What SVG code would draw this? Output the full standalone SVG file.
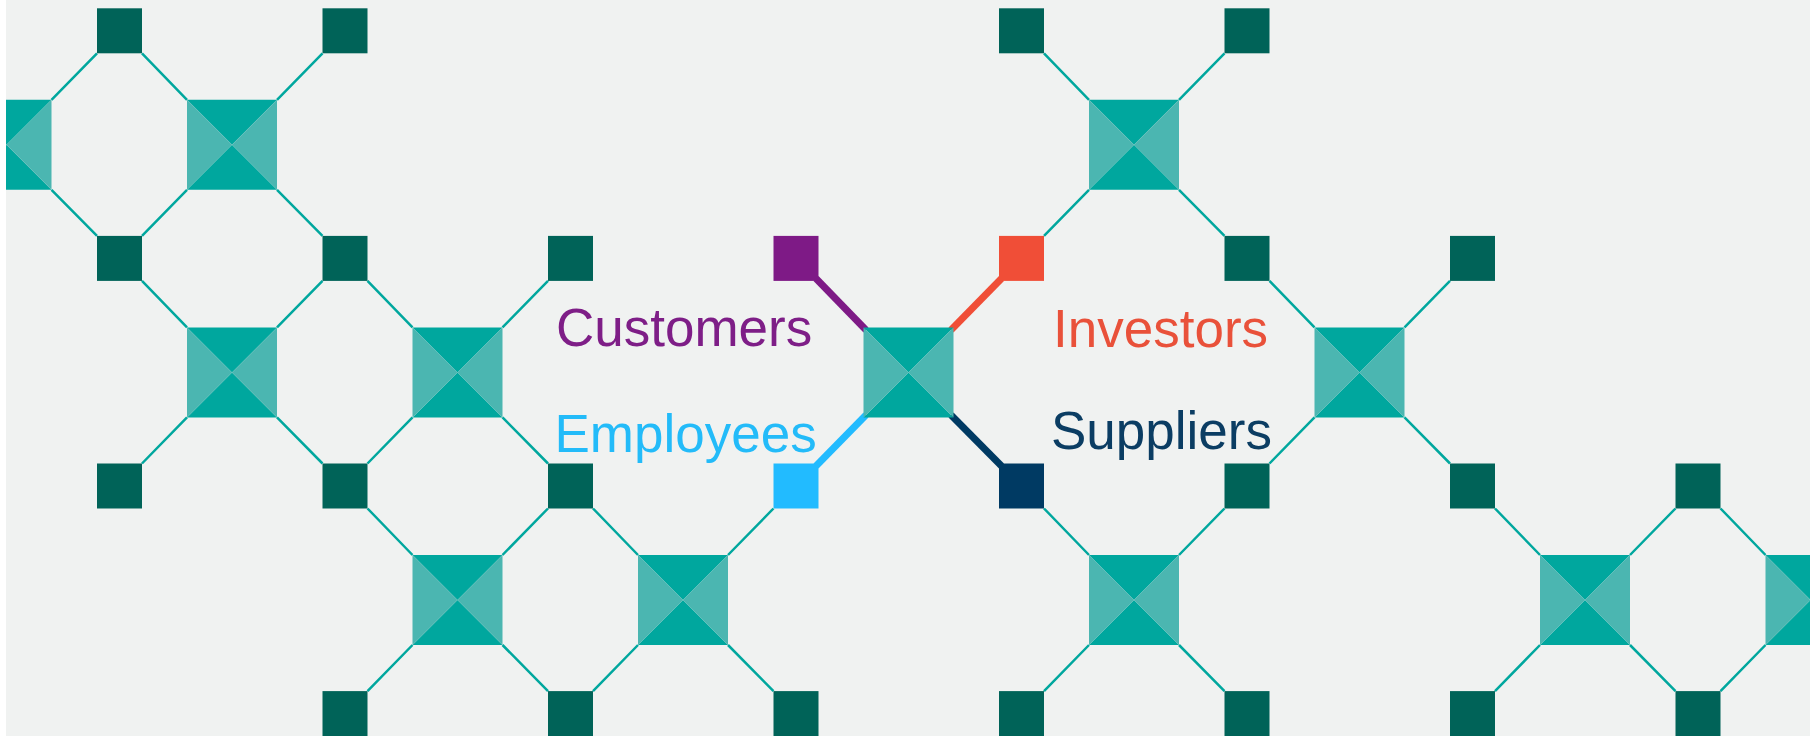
<svg xmlns="http://www.w3.org/2000/svg" xmlns:xlink="http://www.w3.org/1999/xlink" width="1819" height="736" viewBox="0 0 1819 736">
<style>
.dk{fill:#00a79e}
.lt{fill:#4bb6b1}
.sq{fill:#006358}
.ln{stroke:#00a79e;stroke-width:2.5;fill:none}
.arm{stroke-width:7;fill:none}
.lbl{font-family:"Liberation Sans",Arial,sans-serif;font-size:53px}
</style>
<defs>
<clipPath id="clip"><rect x="6" y="0" width="1804" height="736"/></clipPath>
<g id="big">
<polygon class="dk" points="-45,-45 45,-45 0,0"/>
<polygon class="dk" points="-45,45 45,45 0,0"/>
<polygon class="lt" points="-45,-45 -45,45 0,0"/>
<polygon class="lt" points="45,-45 45,45 0,0"/>
</g>
<rect id="sm" x="-22.5" y="-22.5" width="45" height="45"/>
</defs>
<rect x="0" y="0" width="1819" height="736" fill="#ffffff"/>
<g clip-path="url(#clip)">
<rect x="6" y="0" width="1804" height="736" fill="#f0f2f1"/>
<g id="connectors">
<g class="ln">
<path d="M51.5,99.8L97,53.3M51.5,189.8L97,235.9"/>
<path d="M187,99.8L142,53.3M277,99.8L322.5,53.3M187,189.8L142,235.9M277,189.8L322.5,235.9"/>
<path d="M1089,99.8L1044,53.3M1179,99.8L1224.5,53.3M1089,189.8L1044,235.9M1179,189.8L1224.5,235.9"/>
<path d="M187,327.4L142,280.9M277,327.4L322.5,280.9M187,417.4L142,463.5M277,417.4L322.5,463.5"/>
<path d="M412.5,327.4L367.5,280.9M502.5,327.4L548,280.9M412.5,417.4L367.5,463.5M502.5,417.4L548,463.5"/>
<path d="M1314.5,327.4L1269.5,280.9M1404.5,327.4L1450,280.9M1314.5,417.4L1269.5,463.5M1404.5,417.4L1450,463.5"/>
<path d="M412.5,555L367.5,508.5M502.5,555L548,508.5M412.5,645L367.5,691.1M502.5,645L548,691.1"/>
<path d="M638,555L593,508.5M728,555L773.5,508.5M638,645L593,691.1M728,645L773.5,691.1"/>
<path d="M1089,555L1044,508.5M1179,555L1224.5,508.5M1089,645L1044,691.1M1179,645L1224.5,691.1"/>
<path d="M1540,555L1495,508.5M1630,555L1675.5,508.5M1540,645L1495,691.1M1630,645L1675.5,691.1"/>
<path d="M1765.5,555L1720.5,508.5M1765.5,645L1720.5,691.1"/>
</g>
<path class="arm" stroke="#7e1a86" d="M866,330L816,278.5"/>
<path class="arm" stroke="#f04e37" d="M951,330L1001.5,278.5"/>
<path class="arm" stroke="#22bbff" d="M866,415L816,466"/>
<path class="arm" stroke="#003a63" d="M951,415L1001.5,466"/>
</g>
<g id="big-nodes">
<g id="b-0-0"><use xlink:href="#big" x="6.5" y="144.8"/></g>
<g id="b-1-0"><use xlink:href="#big" x="232" y="144.8"/></g>
<g id="b-5-0"><use xlink:href="#big" x="1134" y="144.8"/></g>
<g id="b-1-1"><use xlink:href="#big" x="232" y="372.4"/></g>
<g id="b-2-1"><use xlink:href="#big" x="457.5" y="372.4"/></g>
<g id="b-4-1"><use xlink:href="#big" x="908.5" y="372.4"/></g>
<g id="b-6-1"><use xlink:href="#big" x="1359.5" y="372.4"/></g>
<g id="b-2-2"><use xlink:href="#big" x="457.5" y="600"/></g>
<g id="b-3-2"><use xlink:href="#big" x="683" y="600"/></g>
<g id="b-5-2"><use xlink:href="#big" x="1134" y="600"/></g>
<g id="b-7-2"><use xlink:href="#big" x="1585" y="600"/></g>
<g id="b-8-2"><use xlink:href="#big" x="1810.5" y="600"/></g>
</g>
<g id="small-nodes" class="sq">
<g id="s-0-0"><use xlink:href="#sm" x="119.5" y="30.8"/></g>
<g id="s-1-0"><use xlink:href="#sm" x="345" y="30.8"/></g>
<g id="s-4-0"><use xlink:href="#sm" x="1021.5" y="30.8"/></g>
<g id="s-5-0"><use xlink:href="#sm" x="1247" y="30.8"/></g>
<g id="s-0-1"><use xlink:href="#sm" x="119.5" y="258.4"/></g>
<g id="s-1-1"><use xlink:href="#sm" x="345" y="258.4"/></g>
<g id="s-2-1"><use xlink:href="#sm" x="570.5" y="258.4"/></g>
<g id="customers-node"><use xlink:href="#sm" x="796" y="258.4" fill="#7e1a86"/></g>
<g id="investors-node"><use xlink:href="#sm" x="1021.5" y="258.4" fill="#f04e37"/></g>
<g id="s-5-1"><use xlink:href="#sm" x="1247" y="258.4"/></g>
<g id="s-6-1"><use xlink:href="#sm" x="1472.5" y="258.4"/></g>
<g id="s-0-2"><use xlink:href="#sm" x="119.5" y="486"/></g>
<g id="s-1-2"><use xlink:href="#sm" x="345" y="486"/></g>
<g id="s-2-2"><use xlink:href="#sm" x="570.5" y="486"/></g>
<g id="employees-node"><use xlink:href="#sm" x="796" y="486" fill="#22bbff"/></g>
<g id="suppliers-node"><use xlink:href="#sm" x="1021.5" y="486" fill="#003a63"/></g>
<g id="s-5-2"><use xlink:href="#sm" x="1247" y="486"/></g>
<g id="s-6-2"><use xlink:href="#sm" x="1472.5" y="486"/></g>
<g id="s-7-2"><use xlink:href="#sm" x="1698" y="486"/></g>
<g id="s-1-3"><use xlink:href="#sm" x="345" y="713.6"/></g>
<g id="s-2-3"><use xlink:href="#sm" x="570.5" y="713.6"/></g>
<g id="s-3-3"><use xlink:href="#sm" x="796" y="713.6"/></g>
<g id="s-4-3"><use xlink:href="#sm" x="1021.5" y="713.6"/></g>
<g id="s-5-3"><use xlink:href="#sm" x="1247" y="713.6"/></g>
<g id="s-6-3"><use xlink:href="#sm" x="1472.5" y="713.6"/></g>
<g id="s-7-3"><use xlink:href="#sm" x="1698" y="713.6"/></g>
</g>
</g>
<g id="labels" class="lbl">
<text id="customers" x="556" y="346" fill="#7e1e87">Customers</text>
<text id="employees" x="554.5" y="452" fill="#23bbf9">Employees</text>
<text id="investors" x="1053" y="347" fill="#e9513a">Investors</text>
<text id="suppliers" x="1051" y="448.5" fill="#0b3d63">Suppliers</text>
</g>
</svg>
